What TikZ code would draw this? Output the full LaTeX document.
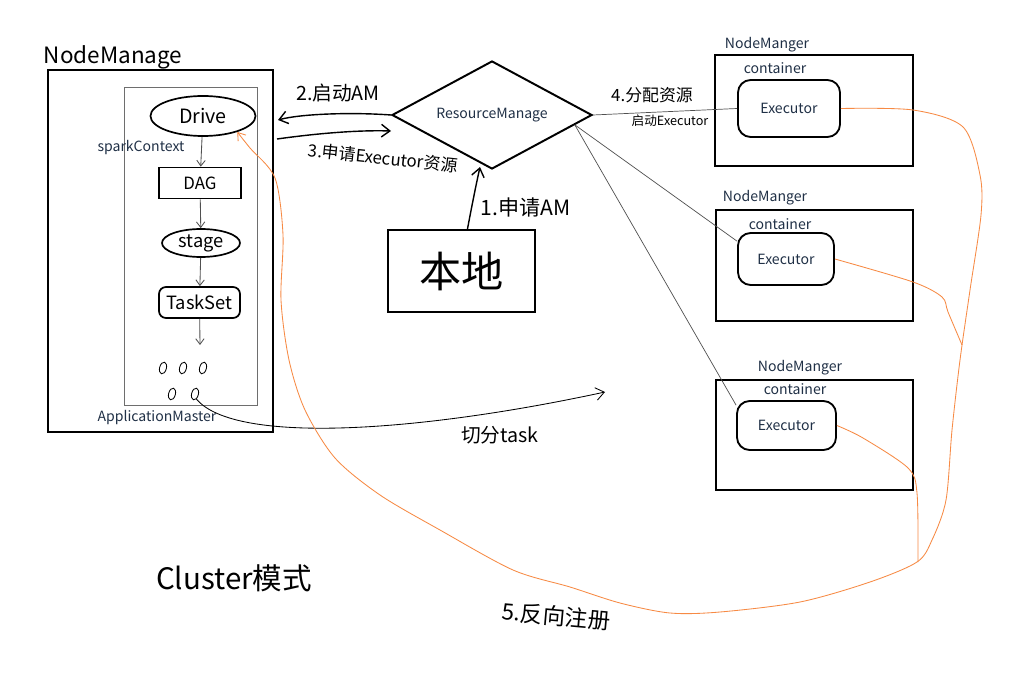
\documentclass[tikz,border=0pt]{standalone}
\usepackage{fontspec}
\setmainfont{Noto Sans CJK SC}
\usetikzlibrary{shapes.geometric,arrows.meta,positioning,calc}
\definecolor{labelnavy}{RGB}{32,48,70}
\definecolor{sketchorange}{RGB}{247,138,68}
\definecolor{wiregray}{RGB}{80,80,80}
\definecolor{amgray}{RGB}{110,110,110}

\begin{document}
\begin{tikzpicture}[
    x=0.025cm,
    y=-0.025cm,
    font=\fontsize{10}{12}\selectfont,
    heavybox/.style={draw, line width=1.6pt, inner sep=0pt},
    execbox/.style={draw, line width=1.3pt, rounded corners=9pt, inner sep=0pt},
    flowbox/.style={draw, line width=1.2pt, inner sep=0pt},
    printed/.style={text=labelnavy},
    hand/.style={text=black},
    flowarrow/.style={-{Straight Barb[length=4pt,width=6pt]}, line width=0.6pt, draw=wiregray},
    handarrow/.style={-{Straight Barb[length=6pt,width=9pt]}, line width=1pt},
    wire/.style={draw=wiregray, line width=0.5pt},
    backline/.style={draw=sketchorange, line width=0.6pt},
    taskdot/.style={draw, ellipse, minimum width=0.17cm, minimum height=0.3cm, inner sep=0pt, line width=0.6pt, rotate=-15}
]
    \useasboundingbox[fill=white] (0,0) rectangle (1024,682);

    % Left NodeManage with the ApplicationMaster
    \node[hand, font=\fontsize{16}{18}\selectfont] (nmLeftLabel) at (113,57) {NodeManage};
    \node[heavybox, minimum width=5.625cm, minimum height=9.05cm] (nmLeft) at (160.5,251) {};
    \node[draw=amgray, line width=0.5pt, minimum width=3.325cm, minimum height=7.95cm, inner sep=0pt] (am) at (190.5,246) {};
    \node[printed] (scLabel) at (141,148) {sparkContext};
    \node[printed] (amLabel) at (157,418) {ApplicationMaster};

    % Driver chain
    \node[flowbox, ellipse, minimum width=2.625cm, minimum height=1cm, font=\fontsize{14}{16}\selectfont] (drive) at (203,116) {Drive};
    \node[flowbox, minimum width=2.05cm, minimum height=0.775cm, font=\fontsize{12}{14}\selectfont] (dag) at (200,183) {DAG};
    \node[flowbox, ellipse, minimum width=1.95cm, minimum height=0.7cm, font=\fontsize{13}{15}\selectfont] (stage) at (201,243) {stage};
    \node[flowbox, rounded corners=5pt, minimum width=2.025cm, minimum height=0.775cm, font=\fontsize{13}{15}\selectfont] (taskset) at (199.5,302.5) {TaskSet};
    \coordinate (tasksTop) at (200,345);
    \draw[flowarrow] (drive) -- (dag);
    \draw[flowarrow] (dag) -- (stage);
    \draw[flowarrow] (stage) -- (taskset);
    \draw[flowarrow] (taskset) -- (tasksTop);

    % Tasks
    \foreach \name/\px/\py in {t1/163/368, t2/183/368, t3/203/368, t4/172/394, t5/195/394}
        \node[taskdot] (\name) at (\px,\py) {};

    % ResourceManage and local client
    \node[diamond, aspect=2, draw, line width=1.4pt, minimum width=5cm, minimum height=2.7cm, inner sep=0pt, printed] (rm) at (492,115) {ResourceManage};
    \node[heavybox, minimum width=3.675cm, minimum height=2.05cm, font=\fontsize{30}{34}\selectfont] (local) at (461.5,271) {本地};

    % Steps 1-3
    \coordinate (amIn) at (278,120);
    \coordinate (amOut) at (277,139);
    \coordinate (rmIn) at (391,131);
    \draw[handarrow] (rm.west) .. controls (350,112) and (300,114) .. (amIn);
    \draw[handarrow] (amOut) .. controls (320,133) and (360,130) .. (rmIn);
    \draw[handarrow] ($(local.north)+(6,0)$) .. controls (472,205) and (476,185) .. ($(rm.south)+(-12,-3)$);
    \node[hand, font=\fontsize{14}{16}\selectfont] (lblStartAM) at (338,93) {2.启动AM};
    \node[hand, font=\fontsize{12}{14}\selectfont, rotate=-6] (lblAskExec) at (383,158) {3.申请Executor资源};
    \node[hand, font=\fontsize{15}{17}\selectfont, anchor=west] (lblAskAM) at (476,207) {1.申请AM};

    % NodeManger 1
    \node[printed] (nmOneLabel) at (767,45) {NodeManger};
    \node[heavybox, minimum width=4.95cm, minimum height=2.775cm] (nmOne) at (814,110.5) {};
    \node[printed] (ctOne) at (775,68) {container};
    \node[execbox, printed, minimum width=2.55cm, minimum height=1.425cm] (execOne) at (789,108.5) {Executor};

    % NodeManger 2
    \node[printed] (nmTwoLabel) at (765,198) {NodeManger};
    \node[heavybox, minimum width=4.925cm, minimum height=2.775cm] (nmTwo) at (814.5,265.5) {};
    \node[printed] (ctTwo) at (780,224) {container};
    \node[execbox, printed, minimum width=2.4cm, minimum height=1.3cm] (execTwo) at (786,259) {Executor};

    % NodeManger 3
    \node[printed] (nmThreeLabel) at (800,368) {NodeManger};
    \node[heavybox, minimum width=4.925cm, minimum height=2.75cm] (nmThree) at (814.5,435) {};
    \node[printed] (ctThree) at (795,389) {container};
    \node[execbox, printed, minimum width=2.475cm, minimum height=1.225cm] (execThree) at (786.5,425.5) {Executor};

    % Step 4
    \draw[wire] (rm.east) -- (execOne.west);
    \draw[wire] ($(rm.east)!0.18!(rm.south)$) -- (execTwo.160);
    \draw[wire] ($(rm.east)!0.18!(rm.south)$) -- (execThree.158);
    \node[hand, font=\fontsize{12}{14}\selectfont] (lblAlloc) at (652,95) {4.分配资源};
    \node[hand, font=\fontsize{9}{11}\selectfont] (lblLaunch) at (670,121) {启动Executor};

    % Split tasks
    \coordinate (taskEnd) at (605,392);
    \draw[line width=0.6pt, -{Straight Barb[length=6pt,width=9pt]}] (t5.south east) .. controls (235,445) and (420,432) .. (taskEnd);
    \node[hand, font=\fontsize{14}{16}\selectfont] (lblSplit) at (500,435) {切分task};

    % Step 5
    \draw[backline, -{Straight Barb[length=5pt,width=7pt]}] plot[smooth, tension=0.5] coordinates {(execOne.east) (913,110) (963,127) (980,175) (981,215) (970,290) (960,360) (952,430) (946,500) (932,540) (917,562) (870,582) (800,602) (720,612) (670,613) (620,603) (570,587) (513,570) (440,530) (380,495) (335,458) (305,410) (289,360) (281,300) (283,235) (275,178) (250,148) (drive.-25)};
    \draw[backline] plot[smooth, tension=0.5] coordinates {(execTwo.east) (913,282) (942,297) (948,312) (962,345)};
    \draw[backline] plot[smooth, tension=0.5] coordinates {(execThree.east) (863,438) (908,468) (917,493) (918,562)};
    \node[hand, font=\fontsize{16}{18}\selectfont, rotate=-5] (lblRegister) at (556,616) {5.反向注册};

    \node[font=\fontsize{21}{24}\selectfont] (modeLabel) at (234,578) {Cluster模式};
\end{tikzpicture}
\end{document}
